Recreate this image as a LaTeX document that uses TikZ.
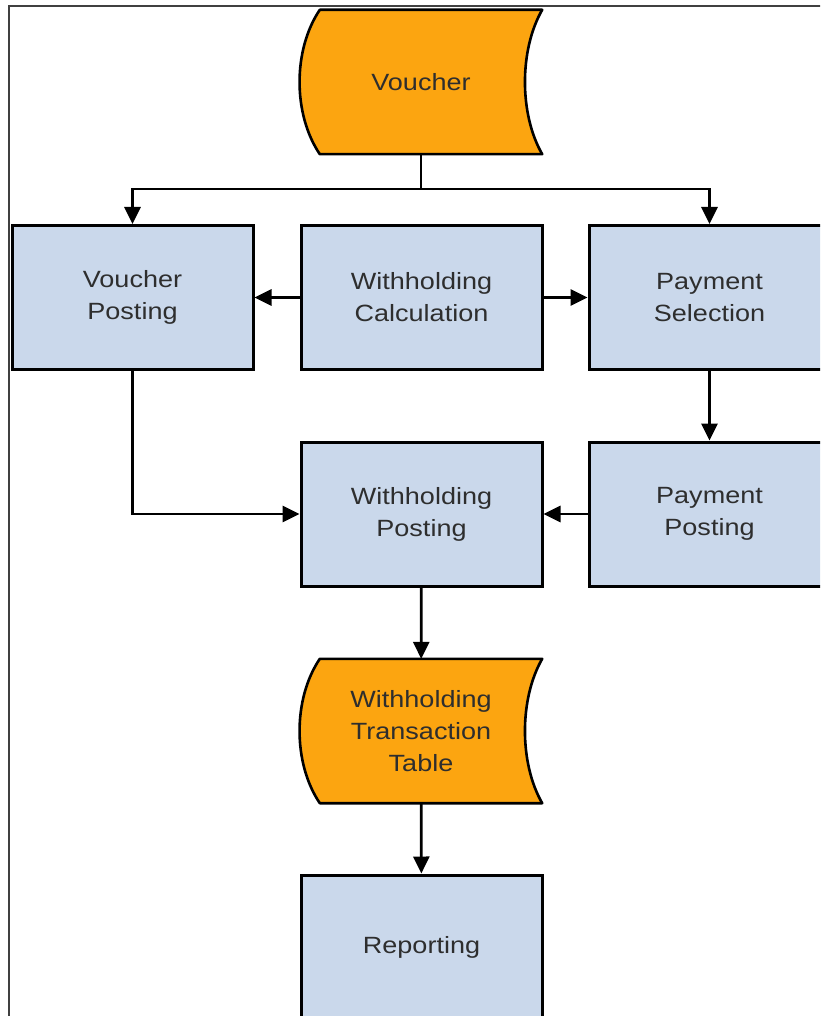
\documentclass[tikz,border=0pt]{standalone}
\usepackage{fontspec}
\setmainfont{Liberation Sans}[FakeStretch=1.15]
\usetikzlibrary{arrows.meta,backgrounds}
\definecolor{boxblue}{HTML}{CAD8EB}
\definecolor{dataorange}{HTML}{FCA510}
\definecolor{txtgray}{HTML}{2E2E2E}
% stored-data outline around a named node
\newcommand\storedshape[1]{%
  \filldraw[dataframe] ([xshift=20pt]#1.north west) -- (#1.north east)
    .. controls ([xshift=-23pt,yshift=-40pt]#1.north east) and ([xshift=-23pt,yshift=40pt]#1.south east) .. (#1.south east)
    -- ([xshift=20pt]#1.south west)
    .. controls ([xshift=-7pt,yshift=40pt]#1.south west) and ([xshift=-7pt,yshift=-40pt]#1.north west) .. cycle;}
\begin{document}
\begin{tikzpicture}[x=1pt,y=-1pt,
  every node/.style={font=\fontsize{23.5}{32}\selectfont,text=txtgray,align=center},
  procbox/.style={draw=black,line width=3pt,fill=boxblue,minimum width=241pt,minimum height=144pt},
  databox/.style={minimum width=242pt,minimum height=144pt},
  dataframe/.style={draw=black,line width=2.6pt,fill=dataorange,line join=round},
  flow/.style={line width=2.8pt,-{Triangle[length=17pt,width=16pt]}},
  frame/.style={draw=black!75,line width=1.6pt}]
\clip (0,0) rectangle (820,1016);
\draw[frame] (830,6) -- (9,6) -- (9,1030);
\node[databox] (voucher) at (421,82) {Voucher};
\node[procbox] (vpost) at (132.5,297.5) {Voucher\\Posting};
\node[procbox] (wcalc) at (421.5,297.5) {Withholding\\Calculation};
\node[procbox] (psel) at (709.5,297.5) {Payment\\Selection};
\node[procbox] (wpost) at (421.5,514) {Withholding\\Posting};
\node[procbox] (ppost) at (709.5,514) {Payment\\Posting};
\node[databox] (wtt) at (421,731) {Withholding\\Transaction\\Table};
\node[procbox] (report) at (421.5,947) {Reporting};
\coordinate (split) at (421,189);
\begin{scope}[on background layer]
\storedshape{voucher}
\storedshape{wtt}
\end{scope}
\draw[line width=2.8pt] (voucher) -- (split);
\draw[flow] (split) -| (vpost);
\draw[flow] (split) -| (psel);
\draw[flow] (wcalc) -- (vpost);
\draw[flow] (wcalc) -- (psel);
\draw[flow] (psel) -- (ppost);
\draw[flow] (vpost) |- (wpost);
\draw[flow] (ppost) -- (wpost);
\draw[flow] (wpost) -- (wtt);
\draw[flow] (wtt) -- (report);
\end{tikzpicture}
\end{document}
